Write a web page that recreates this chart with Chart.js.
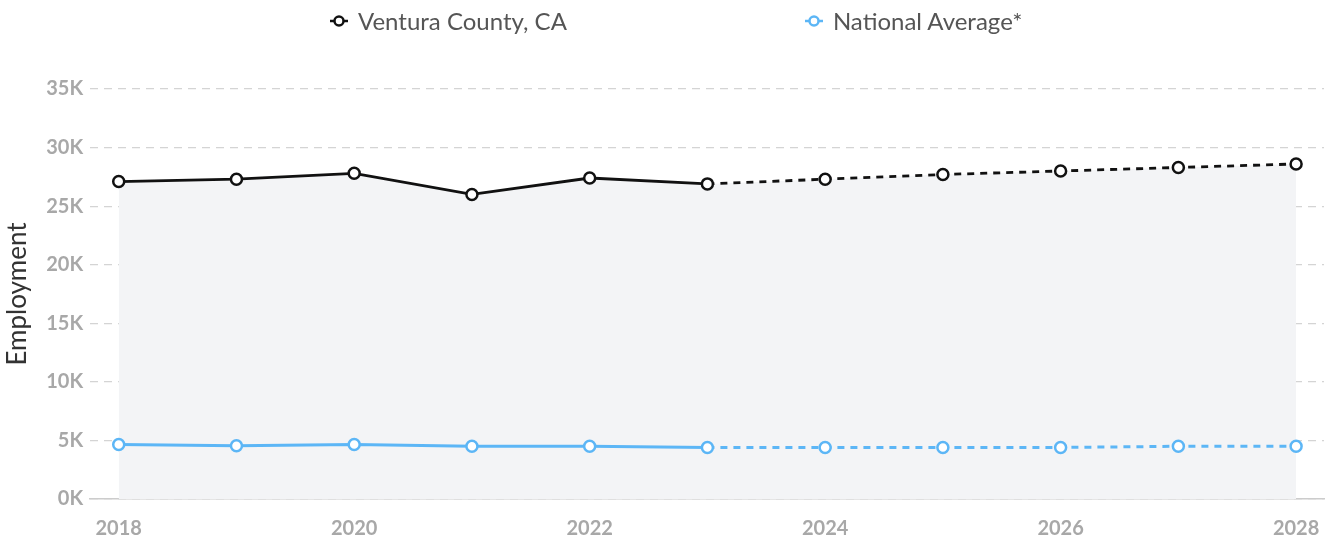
<!DOCTYPE html>
<html>
<head>
<meta charset="utf-8">
<script src="https://cdn.jsdelivr.net/npm/chart.js@4"></script>
<style>
  html, body { margin: 0; padding: 0; background: #fff; }
  #wrap { position: relative; width: 1332px; height: 544px; }
  #legend {
    position: absolute; top: 6px; left: 330px;
    display: flex; align-items: center; gap: 238px;
    font-family: Lato, sans-serif; font-size: 24px; color: #555;
  }
  #legend .item { display: flex; align-items: center; white-space: nowrap; }
  #legend canvas { margin-right: 10px; }
</style>
</head>
<body>
<div id="wrap">
  <div id="legend"></div>
  <canvas id="empChart" width="1332" height="544"></canvas>
</div>
<script>
const years = [2018, 2019, 2020, 2021, 2022, 2023, 2024, 2025, 2026, 2027, 2028];
const ventura = [27100, 27300, 27800, 26000, 27400, 26900, 27300, 27700, 28000, 28300, 28600];
const national = [4650, 4550, 4650, 4500, 4500, 4400, 4400, 4400, 4400, 4500, 4500];
const lastActual = 5; // index of 2023, projections after this are dashed
const yTicks = [0, 5000, 10000, 15000, 20000, 25000, 30000, 35000];
const xTicks = [2018, 2020, 2022, 2024, 2026, 2028];

const black = '#111';
const blue = '#5cb6f6';

function legendIcon(color) {
    const c = document.createElement('canvas');
    c.width = 18; c.height = 14;
    const g = c.getContext('2d');
    g.strokeStyle = color;
    g.lineWidth = 2.5;
    g.beginPath(); g.moveTo(0, 7); g.lineTo(18, 7); g.stroke();
    g.fillStyle = '#fff';
    g.beginPath(); g.arc(9, 7, 4.5, 0, Math.PI * 2); g.fill(); g.stroke();
    return c;
}

// html legend built from the visible line datasets
const htmlLegend = {
    id: 'htmlLegend',
    afterUpdate(chart) {
        const box = document.getElementById('legend');
        box.innerHTML = '';
        chart.data.datasets.forEach(ds => {
            if (!ds.label) return;
            const item = document.createElement('div');
            item.className = 'item';
            item.appendChild(legendIcon(ds.borderColor));
            const txt = document.createElement('span');
            txt.textContent = ds.label;
            item.appendChild(txt);
            box.appendChild(item);
        });
    }
};

const dashAfter = ctx => ctx.p0DataIndex >= lastActual ? [7, 6] : undefined;
const toPoints = vals => years.map((y, i) => ({ x: y, y: vals[i] }));

const ctx = document.getElementById('empChart').getContext('2d');
new Chart(ctx, {
    type: 'line',
    plugins: [htmlLegend],
    data: {
        datasets: [
            {
                label: 'Ventura County, CA',
                data: toPoints(ventura),
                borderColor: black,
                borderWidth: 2.8,
                fill: false,
                pointRadius: 5.5,
                pointBorderWidth: 2.5,
                pointBackgroundColor: '#fff',
                pointBorderColor: black,
                tension: 0,
                segment: { borderDash: dashAfter }
            },
            {
                label: 'National Average*',
                data: toPoints(national),
                borderColor: blue,
                borderWidth: 3,
                fill: false,
                pointRadius: 5.5,
                pointBorderWidth: 2.5,
                pointBackgroundColor: '#fff',
                pointBorderColor: blue,
                tension: 0,
                segment: { borderDash: dashAfter }
            },
            {
                // shaded area under the county line
                data: toPoints(ventura),
                borderWidth: 0,
                borderColor: 'rgba(0,0,0,0)',
                backgroundColor: '#f3f4f6',
                fill: 'origin',
                pointRadius: 0,
                tension: 0
            }
        ]
    },
    options: {
        responsive: false,
        animation: false,
        layout: { padding: { top: 89, right: 0, left: 2, bottom: -7 } },
        plugins: {
            tooltip: { enabled: false },
            filler: { drawTime: 'beforeDatasetsDraw' },
            legend: { display: false }
        },
        scales: {
            x: {
                type: 'linear',
                min: 2017.757,
                max: 2028.237,
                afterBuildTicks: scale => { scale.ticks = xTicks.map(v => ({ value: v })); },
                grid: { display: false },
                border: { display: true, color: '#ccc', width: 1.5 },
                ticks: {
                    color: '#a8a8a8',
                    font: { family: 'Lato', size: 20, weight: 'bold' },
                    padding: 10,
                    callback: v => String(v)
                }
            },
            y: {
                min: 0,
                max: 35000,
                afterBuildTicks: scale => { scale.ticks = yTicks.map(v => ({ value: v })); },
                grid: { color: '#d4d4d4', lineWidth: 1.2, tickLength: 0, drawTicks: false },
                border: { display: false, dash: [8, 6] },
                ticks: {
                    color: '#a8a8a8',
                    font: { family: 'Lato', size: 20, weight: 'bold' },
                    padding: 7,
                    callback: v => (v / 1000) + 'K'
                },
                title: {
                    display: true,
                    text: 'Employment',
                    color: '#333',
                    font: { family: 'Lato', size: 26 },
                    padding: { top: 0, bottom: 6 }
                }
            }
        }
    }
});
</script>
</body>
</html>
